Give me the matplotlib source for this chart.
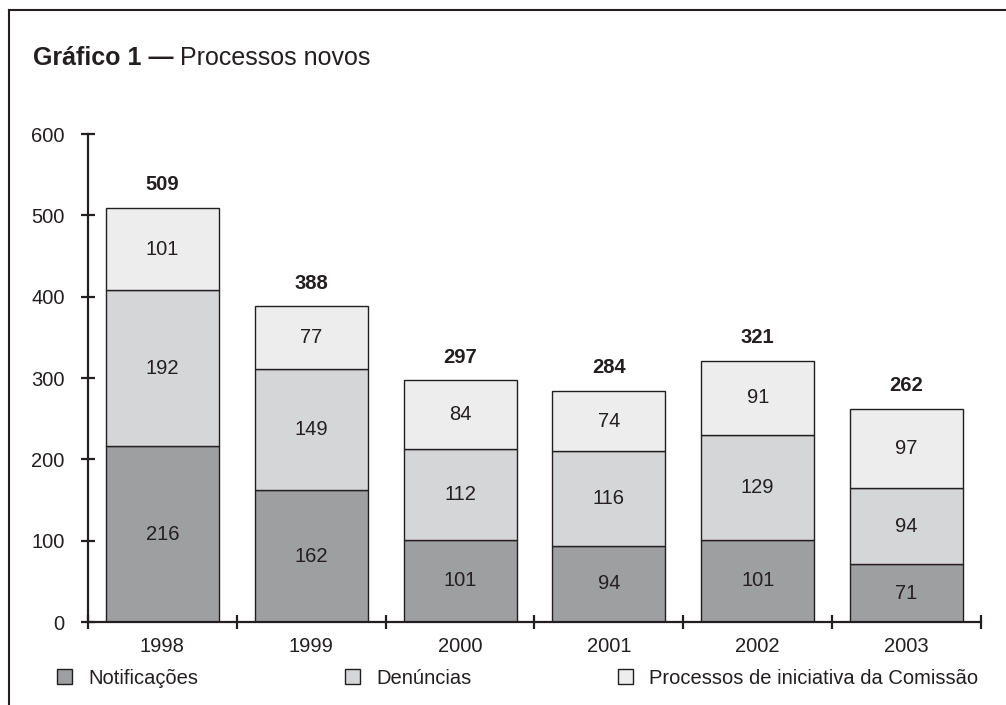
import matplotlib
matplotlib.use("Agg")
import matplotlib.pyplot as plt
from matplotlib.patches import Patch
from matplotlib.lines import Line2D
import numpy as np

plt.rcParams['font.family'] = ['Liberation Sans', 'DejaVu Sans']

years = ["1998", "1999", "2000", "2001", "2002", "2003"]
notificacoes = [216, 162, 101, 94, 101, 71]
denuncias = [192, 149, 112, 116, 129, 94]
iniciativa = [101, 77, 84, 74, 91, 97]
totals = [509, 388, 297, 284, 321, 262]
series_names = ["Notificações", "Denúncias", "Processos de iniciativa da Comissão"]
y_ticks = [0, 100, 200, 300, 400, 500, 600]

ink = "#231f20"
fills = ["#9e9fa1", "#d5d6d7", "#ecedec"]
fs = 14.5

W, H = 1006, 705
fig = plt.figure(figsize=(W / 100, H / 100), dpi=100)
ax = fig.add_axes([88 / W, 1 - 622 / H, (981 - 88) / W, (622 - 134) / H])

x = np.arange(len(years))
bottom = np.zeros(len(years))
for vals, col in zip([notificacoes, denuncias, iniciativa], fills):
    vals = np.array(vals, dtype=float)
    ax.bar(x, vals, width=0.76, bottom=bottom, color=col, edgecolor=ink,
           linewidth=1.0, zorder=2)
    for xi, b, v in zip(x, bottom, vals):
        ax.text(xi, b + v / 2, f"{int(v)}", ha="center", va="center",
                fontsize=fs, color=ink, zorder=3)
    bottom += vals

for xi, t in zip(x, totals):
    ax.annotate(f"{t}", (xi, t), xytext=(0, 10), textcoords="offset points",
                ha="center", va="bottom", fontsize=fs, fontweight="bold",
                color=ink, annotation_clip=False)

ax.set_xlim(-0.5, len(years) - 0.5)
ax.set_ylim(0, 600)
ax.set_yticks(y_ticks)
ax.set_yticklabels([str(v) for v in y_ticks])
ax.set_xticks(x)
ax.set_xticklabels(years)
ax.set_xticks(np.arange(len(years) + 1) - 0.5, minor=True)

for side in ["top", "right"]:
    ax.spines[side].set_visible(False)
for side in ["left", "bottom"]:
    ax.spines[side].set_linewidth(1.6)
    ax.spines[side].set_color(ink)
    ax.spines[side].set_zorder(4)

ax.tick_params(axis="y", direction="inout", length=9.5, width=1.6,
               color=ink, labelsize=fs, labelcolor=ink, pad=12)
ax.tick_params(axis="x", which="major", length=0, labelsize=fs,
               labelcolor=ink, pad=11)
ax.tick_params(axis="x", which="minor", direction="inout", length=10,
               width=1.6, color=ink)
ax.set_facecolor("none")

# legend row under the axis
handles = [Patch(facecolor=c, edgecolor=ink, linewidth=1.0) for c in fills]
fig.legend(handles, series_names, ncol=3, mode="expand",
           loc="center left",
           bbox_to_anchor=(57 / W, 1 - 678 / H, (978 - 57) / W, 0.0),
           frameon=False, fontsize=fs, handlelength=0.75, handleheight=0.75,
           handletextpad=0.8, borderaxespad=0, borderpad=0,
           labelcolor=ink)

# title: bold lead-in followed by regular text
t1 = fig.text(33 / W, 1 - 65 / H, "Gráfico 1 —", fontsize=18,
              fontweight="bold", color=ink, ha="left", va="baseline")
fig.canvas.draw()
bb = t1.get_window_extent()
fig.text((bb.x1 + 6) / W, 1 - 65 / H, "Processos novos", fontsize=18,
         color=ink, ha="left", va="baseline")

# frame lines along the top and left edges
fig.add_artist(Line2D([9 / W, 1.0], [1 - 10 / H, 1 - 10 / H],
                      transform=fig.transFigure, color=ink, linewidth=1.5))
fig.add_artist(Line2D([9 / W, 9 / W], [1 - 10 / H, 0.0],
                      transform=fig.transFigure, color=ink, linewidth=1.5))

fig.savefig("out.png", dpi=100, facecolor="white")
